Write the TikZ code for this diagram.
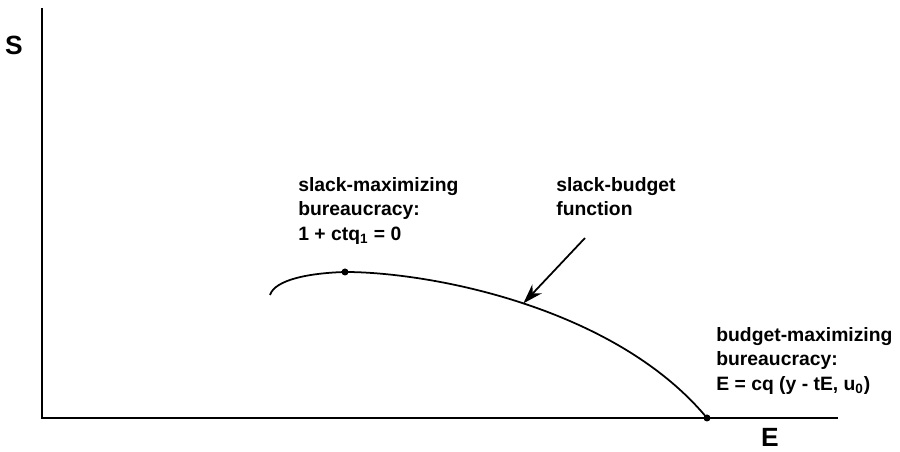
\documentclass[tikz,border=0pt]{standalone}
\usepackage{fontspec}
\setmainfont{Liberation Sans}
\usetikzlibrary{positioning,arrows.meta}

\begin{document}
\begin{tikzpicture}[
  lbl/.style={font=\fontsize{11}{14}\selectfont\bfseries, align=left, inner sep=0pt},
  axlbl/.style={font=\fontsize{15}{17}\selectfont\bfseries, inner sep=0pt},
  axis/.style={line width=1.2pt},
  crv/.style={line width=1pt},
  dot/.style={circle, fill=black, inner sep=0pt, minimum size=1.4mm},
  arr/.style={-{Stealth[length=4mm, width=2.6mm]}, line width=1pt},
]
  \useasboundingbox (0,0) rectangle (18,9.04);

  \coordinate (O) at (0.84,0.68);
  \coordinate (ytop) at (0.84,8.88);
  \coordinate (xend) at (16.76,0.68);
  \draw[axis] (ytop) -- (O) -- (xend);
  \node[axlbl] (S) at (0.28,8.14) {S};
  \node[axlbl] (E) at (15.4,0.3) {E};

  \coordinate (start) at (5.4,3.14);
  \coordinate (peak) at (6.9,3.6);
  \coordinate (budget) at (14.14,0.68);
  \draw[crv] (start) .. controls (5.5,3.45) and (6.2,3.58) .. (peak)
    .. controls (8.6,3.6) and (12.3,2.9) .. coordinate[pos=0.5] (hit) (budget);
  \node[dot] (pk) at (peak) {};
  \node[dot] (bm) at (budget) {};

  \node[lbl, anchor=north west] (slack) at (5.96,5.5)
    {slack-maximizing\\bureaucracy:\\1 + ctq\textsubscript{1} = 0};
  \node[lbl, anchor=north west] (fn) at (11.12,5.5)
    {slack-budget\\function};
  \node[lbl, anchor=north west] (bud) at (14.32,2.5)
    {budget-maximizing\\bureaucracy:\\E = cq (y - tE, u\textsubscript{0})};

  \coordinate (tail) at (11.7,4.28);
  \draw[arr] (tail) -- (hit);
\end{tikzpicture}
\end{document}
